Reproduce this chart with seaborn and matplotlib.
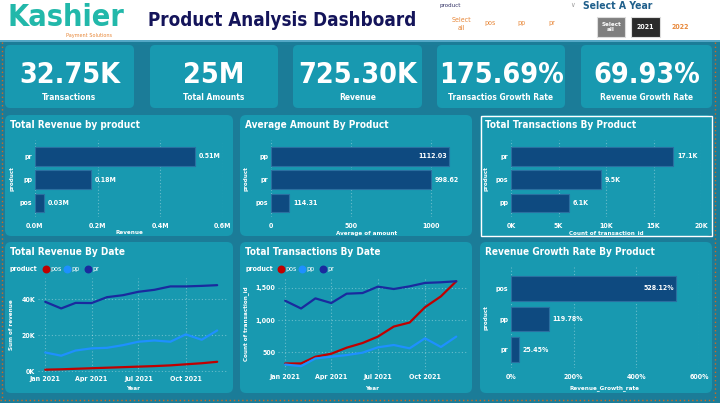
import pandas as pd
import seaborn as sns
import matplotlib.pyplot as plt
import matplotlib.dates as mdates
from matplotlib.patches import FancyBboxPatch, Rectangle
from matplotlib.ticker import FuncFormatter

sns.set_theme(style="white")
plt.rcParams['font.family'] = ['DejaVu Sans']
plt.rcParams['font.stretch'] = 'condensed'

# ---- data ----
kpi_values = ["32.75K", "25M", "725.30K", "175.69%", "69.93%"]
kpi_labels = ["Transactions", "Total Amounts", "Revenue", "Transactios Growth Rate", "Revenue Growth Rate"]

rev_products = ["pr", "pp", "pos"]
rev_values = [510000, 180000, 30000]
rev_text = ["0.51M", "0.18M", "0.03M"]

avg_products = ["pp", "pr", "pos"]
avg_values = [1112.03, 998.62, 114.31]
avg_text = ["1112.03", "998.62", "114.31"]

trx_products = ["pr", "pos", "pp"]
trx_values = [17100, 9500, 6100]
trx_text = ["17.1K", "9.5K", "6.1K"]

growth_products = ["pos", "pp", "pr"]
growth_values = [528.12, 119.78, 25.45]
growth_text = ["528.12%", "119.78%", "25.45%"]

months = pd.date_range("2021-01-01", periods=12, freq="MS")
rev_pos = [800, 1000, 1300, 1600, 1900, 2200, 2500, 2800, 3200, 3800, 4400, 5200]
rev_pp = [10400, 8600, 11500, 12700, 13000, 14500, 16400, 17100, 16400, 20500, 17500, 22700]
rev_pr = [38700, 35000, 38100, 38000, 41300, 42400, 44300, 45400, 47300, 47300, 47600, 48000]

trx_pos = [322, 322, 427, 474, 568, 641, 741, 898, 961, 1200, 1369, 1605]
trx_pp = [306, 280, 400, 427, 453, 490, 574, 610, 558, 715, 579, 741]
trx_pr = [1301, 1180, 1338, 1265, 1411, 1421, 1521, 1484, 1526, 1579, 1589, 1605]

line_colors = {"pos": "#c00000", "pp": "#1e90ff", "pr": "#1a2a9e"}

BG = "#1b7c98"
PANEL = "#1899b0"
BAR = "#0e4a80"

W, H = 720, 403


def rect(x, y, w, h):
    return [x / W, 1 - (y + h) / H, w / W, h / H]


fig = plt.figure(figsize=(7.2, 4.03), dpi=100)
fig.patch.set_facecolor(BG)

bg = fig.add_axes([0, 0, 1, 1], zorder=-1)
bg.set_xlim(0, W)
bg.set_ylim(H, 0)
bg.axis("off")

# header
bg.add_patch(Rectangle((0, 0), W, 40, facecolor="white", edgecolor="none"))
bg.plot([0, W], [40.5, 40.5], color="#5fb0d0", lw=1.2)
bg.text(7, 17, "Kashier", color="#22b8aa", fontsize=22, fontweight="bold", va="center", ha="left")
bg.text(66, 35, "Payment Solutions", color="#e8883a", fontsize=4, va="center")
bg.text(148, 20, "Product Analysis Dashboard", color="#14145a", fontsize=13.5, fontweight="bold", va="center")
bg.text(440, 6, "product", color="#333366", fontsize=4.5, va="center")
bg.text(570, 5, "∨", color="#999999", fontsize=5, va="center")
bg.text(461, 24, "Select\nall", color="#e8883a", fontsize=5, ha="center", va="center", linespacing=1.3)
for name, xx in zip(["pos", "pp", "pr"], [490, 522, 552]):
    bg.text(xx, 23, name, color="#e8883a", fontsize=5, ha="center", va="center")
bg.text(583, 6, "Select A Year", color="#1f5f8b", fontsize=7.5, fontweight="bold", va="center")
bg.add_patch(Rectangle((597, 17), 28, 20, facecolor="#7f7f7f", edgecolor="#dddddd", lw=0.8))
bg.text(611, 27, "Select\nall", color="white", fontsize=4.5, fontweight="bold", ha="center", va="center")
bg.add_patch(Rectangle((631, 17), 29, 20, facecolor="#2b2b2b", edgecolor="#dddddd", lw=0.8))
bg.text(645.5, 27, "2021", color="white", fontsize=5, fontweight="bold", ha="center", va="center")
bg.text(680, 27, "2022", color="#e8883a", fontsize=5, fontweight="bold", ha="center", va="center")

# KPI cards
cards = [(5, 129), (150, 128), (293, 129), (437, 128), (581, 131)]
for (cx, cw), val, lab in zip(cards, kpi_values, kpi_labels):
    bg.add_patch(FancyBboxPatch((cx, 45), cw, 63, boxstyle="round,pad=0,rounding_size=5",
                                facecolor=PANEL, edgecolor="none"))
    bg.text(cx + cw / 2, 75, val, color="white", fontsize=20.5, fontweight="bold", ha="center", va="center")
    bg.text(cx + cw / 2, 98, lab, color="white", fontsize=6, fontweight="bold", ha="center", va="center")

# chart panels
panels = [(5, 115, 228, 121), (240, 115, 232, 121), (480, 115, 232, 121),
          (5, 242, 228, 151), (240, 242, 232, 151), (480, 242, 232, 151)]
titles = ["Total Revenue by product", "Average Amount By Product", "Total Transactions By Product",
          "Total Revenue By Date", "Total Transactions By Date", "Revenue Growth Rate By Product"]
for (px, py, pw, ph), t in zip(panels, titles):
    bg.add_patch(FancyBboxPatch((px, py), pw, ph, boxstyle="round,pad=0,rounding_size=6",
                                facecolor=PANEL, edgecolor="none"))
    bg.text(px + 5, py + 10, t, color="white", fontsize=7.2, fontweight="bold", va="center")
# selected visual outline
bg.add_patch(Rectangle((481, 116), 231, 120, facecolor="none", edgecolor="white", lw=1))

# orange dotted selection edges
bg.plot([1.5, 1.5], [42, 400], color="#d2691e", lw=1, ls=(0, (1, 2)))
bg.plot([0, 716], [400, 400], color="#d2691e", lw=1, ls=(0, (1, 2)))
bg.plot([714.5, 714.5], [42, 400], color="#d2691e", lw=1, ls=(0, (1, 2)))


def style_axis(ax):
    ax.set_facecolor("none")
    for s in ax.spines.values():
        s.set_visible(False)
    ax.tick_params(length=0, colors="white", labelsize=5, pad=2)
    for lab in ax.get_xticklabels() + ax.get_yticklabels():
        lab.set_fontweight("bold")
    ax.grid(False)


def hbar(box, cats, vals, texts, xlim, ticks, fmt, xlabel, inside, xlab_y, ylab_x):
    ax = fig.add_axes(rect(*box))
    sns.barplot(x=vals, y=cats, orient="h", color=BAR, edgecolor="#2a6fa0", linewidth=0.8,
                saturation=1, ax=ax)
    ax.set_xlim(*xlim)
    ax.set_ylim(len(cats) - 0.4, -0.7)
    ax.set_xticks(ticks)
    ax.xaxis.set_major_formatter(FuncFormatter(fmt))
    for t in ticks:
        ax.axvline(t, color="white", alpha=0.35, lw=0.8, ls=(0, (1, 2)), zorder=0)
    ax.set_xlabel("")
    ax.set_ylabel("")
    style_axis(ax)
    for i, (p, txt) in enumerate(zip(ax.patches, texts)):
        xe = p.get_x() + p.get_width()
        yc = p.get_y() + p.get_height() / 2
        if i in inside:
            ax.text(xe - (xlim[1] - xlim[0]) * 0.012, yc, txt, color="white", fontsize=5,
                    fontweight="bold", ha="right", va="center")
        else:
            ax.text(xe + (xlim[1] - xlim[0]) * 0.02, yc, txt, color="white", fontsize=5,
                    fontweight="bold", ha="left", va="center")
    ax.tick_params(axis="x", pad=4)
    x0, y0, w, h = box
    bg.text(x0 + w / 2, xlab_y, xlabel, color="white", fontsize=4.5, fontweight="bold", ha="center", va="center")
    bg.text(ylab_x, y0 + h / 2, "product", color="white", fontsize=4.5, fontweight="bold",
            ha="center", va="center", rotation=90)
    return ax


hbar((35, 140, 188, 77), rev_products, rev_values, rev_text, (0, 600000),
     [0, 200000, 400000, 600000], lambda v, p: f"{v / 1e6:.1f}M", "Revenue", [], 233, 12)
hbar((271, 140, 192, 77), avg_products, avg_values, avg_text, (0, 1200),
     [0, 500, 1000], lambda v, p: f"{v:.0f}", "Average of amount", [0], 233, 246)
hbar((511, 140, 190, 77), trx_products, trx_values, trx_text, (0, 20000),
     [0, 5000, 10000, 15000, 20000], lambda v, p: f"{v / 1000:.0f}K", "Count of transaction_id", [], 233, 486)
hbar((511, 267, 188, 101), growth_products, growth_values, growth_text, (0, 600),
     [0, 200, 400, 600], lambda v, p: f"{v:.0f}%", "Revenue_Growth_rate", [0], 388, 486)


def lines(box, s_pos, s_pp, s_pr, ylim, yticks, yfmt, ylabel, ylab_x, legend_x):
    df = pd.DataFrame({
        "month": list(months) * 3,
        "value": s_pos + s_pp + s_pr,
        "product": ["pos"] * 12 + ["pp"] * 12 + ["pr"] * 12,
    })
    ax = fig.add_axes(rect(*box))
    sns.lineplot(data=df, x="month", y="value", hue="product", palette=line_colors,
                 linewidth=1.6, legend=False, ax=ax)
    ax.set_xlim(pd.Timestamp("2020-12-18"), pd.Timestamp("2021-12-22"))
    ax.set_ylim(*ylim)
    ax.set_yticks(yticks)
    ax.yaxis.set_major_formatter(FuncFormatter(yfmt))
    xt = [pd.Timestamp(d) for d in ["2021-01-01", "2021-04-01", "2021-07-01", "2021-10-01"]]
    ax.set_xticks(xt)
    ax.xaxis.set_major_formatter(mdates.DateFormatter("%b %Y"))
    for t in xt:
        ax.axvline(t, color="white", alpha=0.35, lw=0.8, ls=(0, (1, 2)), zorder=0)
    for t in yticks:
        ax.axhline(t, color="white", alpha=0.35, lw=0.8, ls=(0, (1, 2)), zorder=0)
    ax.set_xlabel("")
    ax.set_ylabel("")
    style_axis(ax)
    ax.tick_params(axis="x", pad=3)
    x0, y0, w, h = box
    bg.text(x0 + w / 2, 388, "Year", color="white", fontsize=4.5, fontweight="bold", ha="center", va="center")
    bg.text(ylab_x, y0 + h / 2, ylabel, color="white", fontsize=4.5, fontweight="bold",
            ha="center", va="center", rotation=90)
    # legend
    bg.text(legend_x, 269, "product", color="white", fontsize=5, fontweight="bold", va="center")
    lx = legend_x + 36
    for name in ["pos", "pp", "pr"]:
        bg.scatter([lx], [269], s=22, color=line_colors[name], zorder=3)
        bg.text(lx + 4, 269, name, color="white", fontsize=5, va="center")
        lx += 21
    return ax


lines((38, 278, 190, 94), rev_pos, rev_pp, rev_pr, (-500, 52000), [0, 20000, 40000],
      lambda v, p: f"{v / 1000:.0f}K", "Sum of revenue", 12, 10)
lines((278, 278, 189, 92), trx_pos, trx_pp, trx_pr, (220, 1656), [500, 1000, 1500],
      lambda v, p: f"{v:,.0f}", "Count of transaction_id", 246, 245)

fig.savefig("out.png", dpi=100, facecolor=fig.get_facecolor())
